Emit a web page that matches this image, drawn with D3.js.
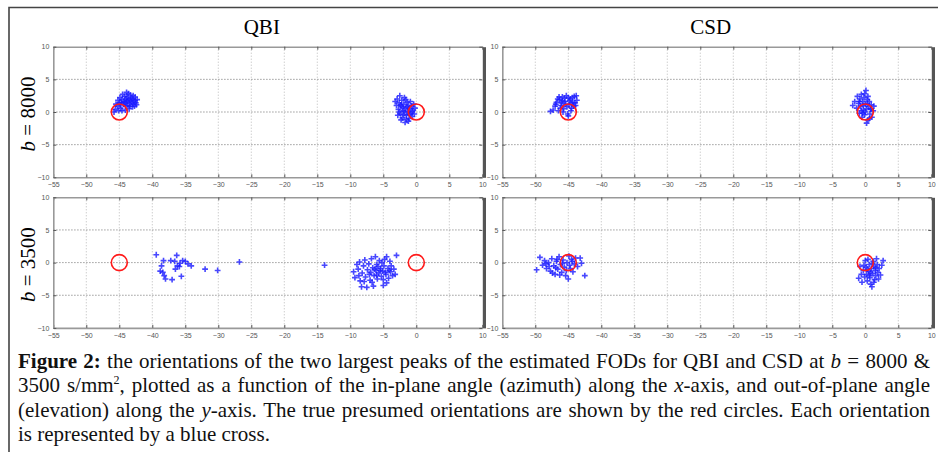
<!DOCTYPE html>
<html>
<head>
<meta charset="utf-8">
<script src="https://cdn.jsdelivr.net/npm/d3@7"></script>
<style>
  body { margin: 0; background: #fff; }
  svg { display: block; }
  .tick text { font-family: "Liberation Sans", sans-serif; font-size: 7px; fill: #555; }
</style>
</head>
<body>
<svg id="fig" width="938" height="452"></svg>
<script>
// column / row headings
const methods = ["QBI", "CSD"];
const bValues = ["8000", "3500"];

// axis ticks
const xTicks = [-55, -50, -45, -40, -35, -30, -25, -20, -15, -10, -5, 0, 5, 10];
const yTicks = [-10, -5, 0, 5, 10];

// true presumed orientations [azimuth, elevation]
const truePeaks = [[-45, 0], [0, 0]];

// estimated peak orientations [azimuth, elevation]
const qbi8000 = [
  [-45.6,0.4],[-45.3,0.9],[-45.0,1.4],[-44.8,0.6],[-44.6,1.9],[-44.4,1.2],[-44.2,2.4],[-44.0,0.9],
  [-43.8,1.7],[-43.6,2.8],[-43.4,1.3],[-43.2,2.1],[-43.0,0.8],[-42.8,1.6],[-42.6,2.3],[-42.4,1.1],
  [-42.3,1.9],[-44.9,2.2],[-44.5,2.7],[-43.9,3.0],[-43.3,2.6],[-42.9,2.5],[-42.5,1.4],[-43.5,0.5],
  [-44.1,0.3],[-44.7,1.5],[-45.2,1.8],[-45.5,1.2],[-43.7,1.0],[-43.1,1.5],[-44.3,1.6],[-44.0,2.0],
  [-43.6,1.9],[-43.0,2.0],[-42.7,0.9],[-44.6,0.2],[-45.1,0.2],[-45.8,0.0],[-43.8,2.3],[-44.2,1.4],
  [-43.4,0.9],[-42.9,1.2],[-44.8,1.1],[-43.9,1.5],[-43.3,1.8],[-42.6,1.8],
  [-3.2,1.6],[-3.0,1.0],[-2.9,2.0],[-2.7,0.4],[-2.6,1.4],[-2.5,2.5],[-2.4,-0.3],[-2.3,0.9],
  [-2.2,1.8],[-2.1,-0.9],[-2.0,0.2],[-1.9,1.2],[-1.8,2.2],[-1.7,-1.6],[-1.6,0.6],[-1.5,-0.5],
  [-1.4,1.5],[-1.3,0.0],[-1.2,1.0],[-1.1,-1.0],[-1.0,0.5],[-0.9,1.6],[-0.8,-0.2],[-0.7,0.9],
  [-0.6,-0.7],[-0.5,0.3],[-0.4,1.2],[-0.3,-0.3],[-2.8,-0.5],[-2.3,-1.2],[-1.9,-0.4],[-1.4,0.8],
  [-1.0,-0.4],[-1.6,1.9],[-2.1,0.7],[-2.6,0.0],[-1.2,-1.4],[-0.6,0.1],[-0.2,0.6],[-1.8,0.1],
  [-2.4,1.1],[-1.5,-1.1]
];

const csd8000 = [
  [-47.7,0.1],[-47.3,0.3],[-47.0,0.9],[-46.8,1.5],[-46.5,0.2],[-46.3,1.9],[-46.1,1.0],[-45.9,2.3],
  [-45.7,0.5],[-45.5,1.6],[-45.3,2.5],[-45.1,-0.3],[-44.9,1.1],[-44.7,2.0],[-44.5,0.6],[-44.3,1.5],
  [-44.1,2.4],[-43.9,1.0],[-43.7,1.8],[-46.6,2.0],[-46.0,1.4],[-45.6,2.1],[-45.2,0.8],[-44.8,1.7],
  [-44.4,2.2],[-44.0,1.4],[-43.8,2.5],[-46.9,1.2],[-45.8,0.0],[-45.0,-0.6],[-44.6,0.2],[-45.4,1.2],
  [-46.2,0.6],[-44.2,0.9],[-45.9,1.7],[-46.4,2.3],[-45.0,2.2],[-44.5,1.3],
  [-1.9,1.0],[-1.6,1.6],[-1.3,0.6],[-1.2,2.4],[-1.0,1.3],[-0.9,-0.2],[-0.8,2.0],[-0.7,0.9],
  [-0.6,2.7],[-0.5,-0.8],[-0.4,1.6],[-0.3,0.3],[-0.2,2.2],[-0.1,-0.4],[0.0,1.2],[0.1,3.3],
  [0.2,0.5],[0.3,1.9],[0.4,-1.2],[0.5,0.8],[0.6,1.6],[0.7,-0.3],[0.8,0.4],[0.9,1.1],
  [1.0,-0.8],[1.2,0.2],[1.3,0.9],[0.2,-1.7],[-0.3,1.0],[-0.6,0.2],[0.4,2.4],[-0.1,2.8],
  [0.6,-1.0],[-0.9,1.6],[0.0,0.0],[0.3,1.3],[-0.4,-0.2],[0.9,0.5]
];

const qbi3500 = [
  [-39.4,1.2],[-38.3,0.3],[-37.2,0.3],[-36.3,1.1],[-36.6,0.2],[-35.8,-0.1],[-35.4,0.3],[-35.0,0.2],
  [-34.6,-0.2],[-34.1,-0.5],[-36.2,-0.5],[-36.5,-1.0],[-38.6,-0.5],[-38.8,-1.3],[-38.4,-1.5],[-38.2,-2.0],
  [-38.0,-2.5],[-37.0,-2.6],[-35.6,-2.1],[-35.9,-0.6],[-32.0,-1.0],[-30.1,-1.2],[-26.8,0.1],[-13.9,-0.4],
  [-9.5,-1.4],[-9.3,-2.3],[-9.0,-0.3],[-8.8,-1.0],[-8.6,0.1],[-8.5,-2.8],[-8.3,-3.7],[-8.2,-1.6],
  [-8.0,-0.5],[-7.8,0.4],[-7.7,-2.2],[-7.5,-3.8],[-7.4,-1.1],[-7.2,-0.2],[-7.0,-2.7],[-6.9,-1.5],
  [-6.8,0.6],[-6.6,-0.8],[-6.5,-3.6],[-6.4,-2.0],[-6.2,0.9],[-6.1,-1.2],[-6.0,-0.3],[-5.9,-2.5],
  [-5.7,-1.6],[-5.6,0.3],[-5.4,-0.9],[-5.3,-2.1],[-5.1,-1.3],[-5.0,-3.5],[-4.9,-0.5],[-4.8,0.5],
  [-4.6,-1.8],[-4.5,0.9],[-4.5,-3.1],[-4.3,-0.9],[-4.2,-2.4],[-4.0,0.2],[-3.9,-1.4],[-3.8,-0.5],
  [-3.6,-2.0],[-3.4,-1.0],[-3.2,-1.8],[-3.0,1.1],[-7.1,-1.8],[-6.3,-1.0],[-5.5,-1.2],[-4.7,-1.5],
  [-5.8,-0.6],[-7.9,-2.9],[-6.7,-3.0],[-5.2,0.0],[-4.1,-1.2],[-8.7,-2.0],[-6.0,-1.9],[-5.0,-2.6]
];

const csd3500 = [
  [-49.8,-1.1],[-49.3,0.8],[-48.9,-0.4],[-48.6,0.3],[-48.3,-0.9],[-48.0,0.0],[-47.7,-1.3],[-47.5,0.6],
  [-47.2,-0.5],[-47.0,-1.8],[-46.8,0.2],[-46.6,-1.0],[-46.4,0.9],[-46.2,-0.3],[-46.0,-1.5],[-45.8,0.4],
  [-45.6,-0.7],[-45.4,-2.0],[-45.2,0.0],[-45.0,-2.5],[-44.9,1.0],[-44.7,-0.9],[-44.5,0.5],[-44.3,-1.4],
  [-44.1,-0.2],[-43.9,0.7],[-43.6,-0.6],[-43.2,0.7],[-43.0,-0.1],[-42.5,-2.0],[-47.9,-0.6],[-46.9,-0.8],
  [-45.9,-0.1],[-44.8,-0.4],[-46.3,-1.9],[-47.4,-1.6],[-45.3,-1.2],[-44.4,0.2],[-48.4,-0.2],[-46.7,0.5],
  [-0.5,-3.0],[-0.3,-1.2],[-0.1,-2.2],[0.0,0.3],[0.1,-0.7],[0.2,-1.8],[0.3,-2.8],[0.4,0.5],
  [0.5,-1.3],[0.6,-0.3],[0.7,-2.3],[0.8,-3.3],[0.9,-0.9],[1.0,-3.7],[1.1,-1.7],[1.2,0.2],
  [1.3,-0.6],[1.4,-2.6],[1.5,-1.2],[1.6,-2.0],[1.7,0.6],[1.8,-0.3],[1.9,-1.5],[2.0,-2.5],
  [2.1,-0.9],[2.3,-1.9],[2.5,-0.4],[2.7,0.3],[-0.8,-0.6],[-1.0,-2.4],[-0.6,-1.8],[0.3,-1.0],
  [1.1,-0.1],[0.6,-2.0],[1.3,-3.0],[-0.2,-0.4],[0.8,-1.5],[1.6,-0.8]
];

const panelData = [[qbi8000, csd8000], [qbi3500, csd3500]];

const svg = d3.select("#fig");
const serif = "'Liberation Serif', 'Times New Roman', serif";

// outer frame of the figure box
svg.append("path")
  .attr("d", "M9,452 V7.5 H938")
  .attr("fill", "none")
  .attr("stroke", "#444")
  .attr("stroke-width", 1.6);

const colX = [53.3, 502.3];
const rowY = [46.7, 197.3];
const pw = 429, ph = 130.6;

// column titles
svg.selectAll(".col-title")
  .data(methods)
  .join("text")
    .attr("class", "col-title")
    .attr("x", (d, i) => colX[i] + pw / 2 - 6)
    .attr("y", 34)
    .attr("text-anchor", "middle")
    .attr("font-family", serif)
    .attr("font-size", 21)
    .text(d => d);

// row titles
const rowTitles = svg.selectAll(".row-title")
  .data(bValues)
  .join("text")
    .attr("class", "row-title")
    .attr("transform", (d, i) => `translate(34.5, ${rowY[i] + ph / 2 + 2}) rotate(-90)`)
    .attr("text-anchor", "middle")
    .attr("font-family", serif)
    .attr("font-size", 21);
rowTitles.append("tspan").attr("font-style", "italic").text("b");
rowTitles.append("tspan").text(d => ` = ${d}`);

const drawPanel = (g, points) => {
  const x = d3.scaleLinear().domain([-55, 10]).range([0, pw]);
  const y = d3.scaleLinear().domain([-10, 10]).range([ph, 0]);

  // dotted grid
  g.append("g")
    .selectAll("line")
    .data(xTicks.slice(1, -1))
    .join("line")
      .attr("x1", d => x(d)).attr("x2", d => x(d))
      .attr("y1", 0).attr("y2", ph)
      .attr("stroke", "#aaa")
      .attr("stroke-width", 0.8)
      .attr("stroke-dasharray", "1,2");
  g.append("g")
    .selectAll("line")
    .data(yTicks.slice(1, -1))
    .join("line")
      .attr("x1", 0).attr("x2", pw)
      .attr("y1", d => y(d)).attr("y2", d => y(d))
      .attr("stroke", "#777")
      .attr("stroke-width", 0.9)
      .attr("stroke-dasharray", "1.2,1.8");

  // axes with inward ticks
  const styleAxis = sel => {
    sel.select(".domain").attr("stroke", "#999").attr("stroke-width", 1.6);
    sel.selectAll(".tick line").attr("stroke", "#555");
  };
  g.append("g")
    .attr("transform", `translate(0,${ph})`)
    .call(d3.axisBottom(x).tickValues(xTicks).tickSizeInner(-3).tickSizeOuter(0).tickPadding(5))
    .call(styleAxis);
  g.append("g")
    .call(d3.axisTop(x).tickValues(xTicks).tickSizeInner(-3).tickSizeOuter(0).tickFormat(""))
    .call(styleAxis);
  g.append("g")
    .call(d3.axisLeft(y).tickValues(yTicks).tickSizeInner(-3).tickSizeOuter(0).tickPadding(4))
    .call(styleAxis);
  g.append("g")
    .attr("transform", `translate(${pw},0)`)
    .call(d3.axisRight(y).tickValues(yTicks).tickSizeInner(-3).tickSizeOuter(0).tickFormat(""))
    .call(sel => sel.select(".domain").attr("stroke", "#555").attr("stroke-width", 3.2).attr("transform", "translate(1.6,0)"))
    .call(sel => sel.selectAll(".tick line").attr("stroke", "#555"));

  // blue crosses
  const s = 2.9;
  g.append("g")
    .attr("stroke", "#1a1aff")
    .attr("stroke-width", 1.6)
    .attr("stroke-opacity", 0.8)
    .selectAll("path")
    .data(points)
    .join("path")
      .attr("d", d => `M${x(d[0]) - s},${y(d[1])}h${2 * s}M${x(d[0])},${y(d[1]) - s}v${2 * s}`);

  // red circles for the true orientations
  g.append("g")
    .selectAll("circle")
    .data(truePeaks)
    .join("circle")
      .attr("cx", d => x(d[0]))
      .attr("cy", d => y(d[1]))
      .attr("r", 8)
      .attr("fill", "none")
      .attr("stroke", "#ff1a1a")
      .attr("stroke-width", 1.6);
};

panelData.forEach((row, r) => {
  row.forEach((points, c) => {
    const g = svg.append("g").attr("transform", `translate(${colX[c]},${rowY[r]})`);
    drawPanel(g, points);
  });
});

// caption, justified like the source page
const captionLines = [
  [{t: "Figure 2:", w: "bold"}, {t: " the orientations of the two largest peaks of the estimated FODs for QBI and CSD at "}, {t: "b", s: "italic"}, {t: " = 8000 &"}],
  [{t: "3500 s/mm"}, {t: "2", sup: true}, {t: ", plotted as a function of the in-plane angle (azimuth) along the "}, {t: "x", s: "italic"}, {t: "-axis, and out-of-plane angle"}],
  [{t: "(elevation) along the "}, {t: "y", s: "italic"}, {t: "-axis. The true presumed orientations are shown by the red circles. Each orientation"}],
  [{t: "is represented by a blue cross."}]
];
const capX = 18, capRight = 930;
const capBase = [367.5, 392, 416.5, 441];

captionLines.forEach((parts, i) => {
  const line = svg.append("text")
    .attr("x", capX)
    .attr("y", capBase[i])
    .attr("font-family", serif)
    .attr("font-size", 21)
    .attr("fill", "#111");
  parts.forEach((p, j) => {
    const ts = line.append("tspan").text(p.t);
    if (p.w) ts.attr("font-weight", p.w);
    if (p.s) ts.attr("font-style", p.s);
    if (p.sup) ts.attr("font-size", 12).attr("dy", -8);
    if (j > 0 && parts[j - 1].sup) ts.attr("dy", 8);
  });
  if (i < captionLines.length - 1) {
    const natural = line.node().getComputedTextLength();
    const spaces = parts.map(p => p.t).join("").split(" ").length - 1;
    line.attr("word-spacing", (capRight - capX - natural) / spaces);
  }
});
</script>
</body>
</html>
